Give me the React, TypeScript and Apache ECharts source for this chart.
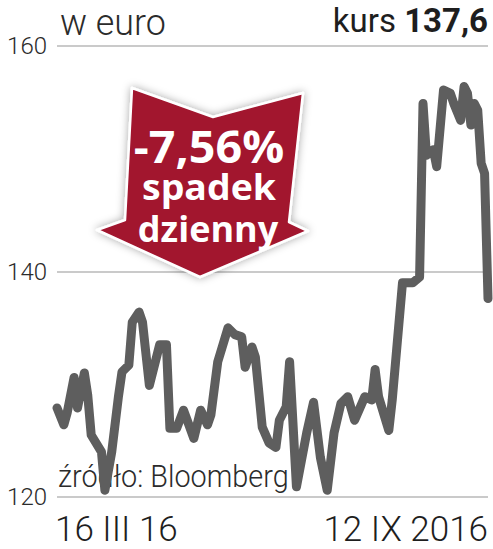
import React, { useEffect, useRef } from "react";
import * as echarts from "echarts";

// trading-day index (from 16 III 2016) and closing price in euro
const days = [0,2,3,5,6,8,9,10,13,14,16,18,19,21,22,24,25,27,30,32,33,35,37,40,42,44,45,47,50,52,54,55,57,58,60,62,64,65,67,68,70,73,75,77,79,81,83,85,87,90,92,93,94,97,98,101,104,106,107,108,110,111,113,115,116,118,119,120,121,122,123,124,125,126];
const prices = [127.9,126.4,127.5,130.6,127.9,131.0,129.0,125.5,124.0,120.6,124.0,129.0,131.1,131.7,135.5,136.4,135.5,129.9,133.5,133.5,126.1,126.1,127.7,125.2,127.7,126.4,127.3,132.0,135.0,134.4,134.2,131.5,133.3,132.4,126.2,124.8,124.4,126.8,128.0,132.0,120.9,125.7,128.4,123.5,120.6,125.7,128.3,128.9,126.8,128.9,128.6,131.3,128.9,125.9,128.6,139.0,139.0,139.5,154.9,150.3,150.8,149.3,156.1,155.8,154.9,153.4,156.4,155.8,153.0,154.9,154.3,149.6,148.7,137.6];
const yTicks = [120, 140, 160];
const xLabels = ["16 III 16", "12 IX 2016"];
const unitLabel = "w euro";
const lastLabel = "kurs";
const lastValue = "137,6";
const changeLabel = "-7,56%";
const changeText = ["spadek", "dzienny"];
const sourceLabel = "źródło: Bloomberg";

export default function App() {
  const ref = useRef<HTMLDivElement>(null);
  useEffect(() => {
    if (!ref.current) return;
    const chart = echarts.init(ref.current, null, { renderer: "svg" });
    const data = days.map((d, i) => [d, prices[i]]);
    chart.setOption({
      animation: false,
      backgroundColor: "#ffffff",
      grid: { left: 57, right: 5, top: 46, bottom: 52, containLabel: false },
      xAxis: {
        type: "value",
        min: 0,
        max: 126,
        show: false,
      },
      yAxis: {
        type: "value",
        min: yTicks[0],
        max: yTicks[yTicks.length - 1],
        interval: 20,
        axisLine: { show: false },
        axisTick: { show: false },
        splitLine: { show: true, lineStyle: { color: "#b8b8b8", width: 1.5 } },
        axisLabel: {
          margin: 10,
          fontSize: 24,
          fontFamily: "Roboto",
          fontWeight: 300,
          color: "#2b2b2b",
          verticalAlign: "middle",
          padding: [4, 0, 0, 0],
        },
      },
      series: [
        {
          type: "line",
          data,
          symbol: "none",
          z: 3,
          lineStyle: { color: "#5e5e5e", width: 9, cap: "round", join: "round" },
        },
      ],
      graphic: [
        {
          type: "text",
          x: 60,
          y: 22,
          scaleX: 0.97,
          z: 10,
          style: {
            text: unitLabel,
            fontSize: 37,
            lineHeight: 30,
            fontFamily: "Roboto",
            fontWeight: 300,
            fill: "#2b2b2b",
            textAlign: "left",
            textVerticalAlign: "middle",
          },
        },
        {
          type: "text",
          x: 488,
          y: 20,
          z: 10,
          style: {
            text: `{a|${lastLabel} }{b|${lastValue}}`,
            textAlign: "right",
            textVerticalAlign: "middle",
            rich: {
              a: { fontSize: 33, lineHeight: 32, fontFamily: "Roboto", fontWeight: 400, fill: "#1e1e1e" },
              b: { fontSize: 33, lineHeight: 32, fontFamily: "Roboto", fontWeight: 700, fill: "#1e1e1e" },
            },
          },
        },
        {
          type: "text",
          x: 58,
          y: 476,
          scaleX: 0.93,
          z: 1,
          style: {
            text: sourceLabel,
            fontSize: 31,
            fontFamily: "Roboto",
            fontWeight: 300,
            fill: "#2b2b2b",
            textAlign: "left",
            textVerticalAlign: "middle",
          },
        },
        {
          type: "text",
          x: 55,
          y: 529,
          z: 10,
          style: {
            text: xLabels[0],
            fontSize: 35,
            fontFamily: "Roboto",
            fontWeight: 300,
            fill: "#1e1e1e",
            textAlign: "left",
            textVerticalAlign: "middle",
          },
        },
        {
          type: "text",
          x: 488,
          y: 529,
          z: 10,
          style: {
            text: xLabels[1],
            fontSize: 35,
            fontFamily: "Roboto",
            fontWeight: 300,
            fill: "#1e1e1e",
            textAlign: "right",
            textVerticalAlign: "middle",
          },
        },
        {
          type: "polygon",
          z: 20,
          shape: {
            points: [
              [132, 88],
              [213, 117],
              [303, 93],
              [289, 222],
              [308, 231],
              [200, 277],
              [97, 230],
              [125, 220],
            ],
          },
          style: {
            fill: "#a2132f",
            stroke: "#ffffff",
            lineWidth: 2.5,
            lineJoin: "round",
            shadowBlur: 8,
            shadowColor: "rgba(0,0,0,0.35)",
          },
        },
        {
          type: "text",
          x: 209,
          y: 146,
          scaleX: 1.06,
          z: 21,
          style: {
            text: changeLabel,
            fontSize: 44,
            lineHeight: 38,
            fontFamily: "Open Sans",
            fontWeight: 700,
            fill: "#ffffff",
            textAlign: "center",
            textVerticalAlign: "middle",
          },
        },
        {
          type: "text",
          x: 209,
          y: 186,
          scaleX: 1.04,
          z: 21,
          style: {
            text: changeText[0],
            fontSize: 36,
            lineHeight: 34,
            fontFamily: "Open Sans",
            fontWeight: 700,
            fill: "#ffffff",
            textAlign: "center",
            textVerticalAlign: "middle",
          },
        },
        {
          type: "text",
          x: 208,
          y: 228,
          z: 21,
          style: {
            text: changeText[1],
            fontSize: 36,
            lineHeight: 34,
            fontFamily: "Open Sans",
            fontWeight: 700,
            fill: "#ffffff",
            textAlign: "center",
            textVerticalAlign: "middle",
          },
        },
      ],
    });
    return () => chart.dispose();
  }, []);
  return (
    <div
      ref={ref}
      style={{ position: "absolute", left: 0, top: 0, width: 493, height: 549 }}
    />
  );
}
